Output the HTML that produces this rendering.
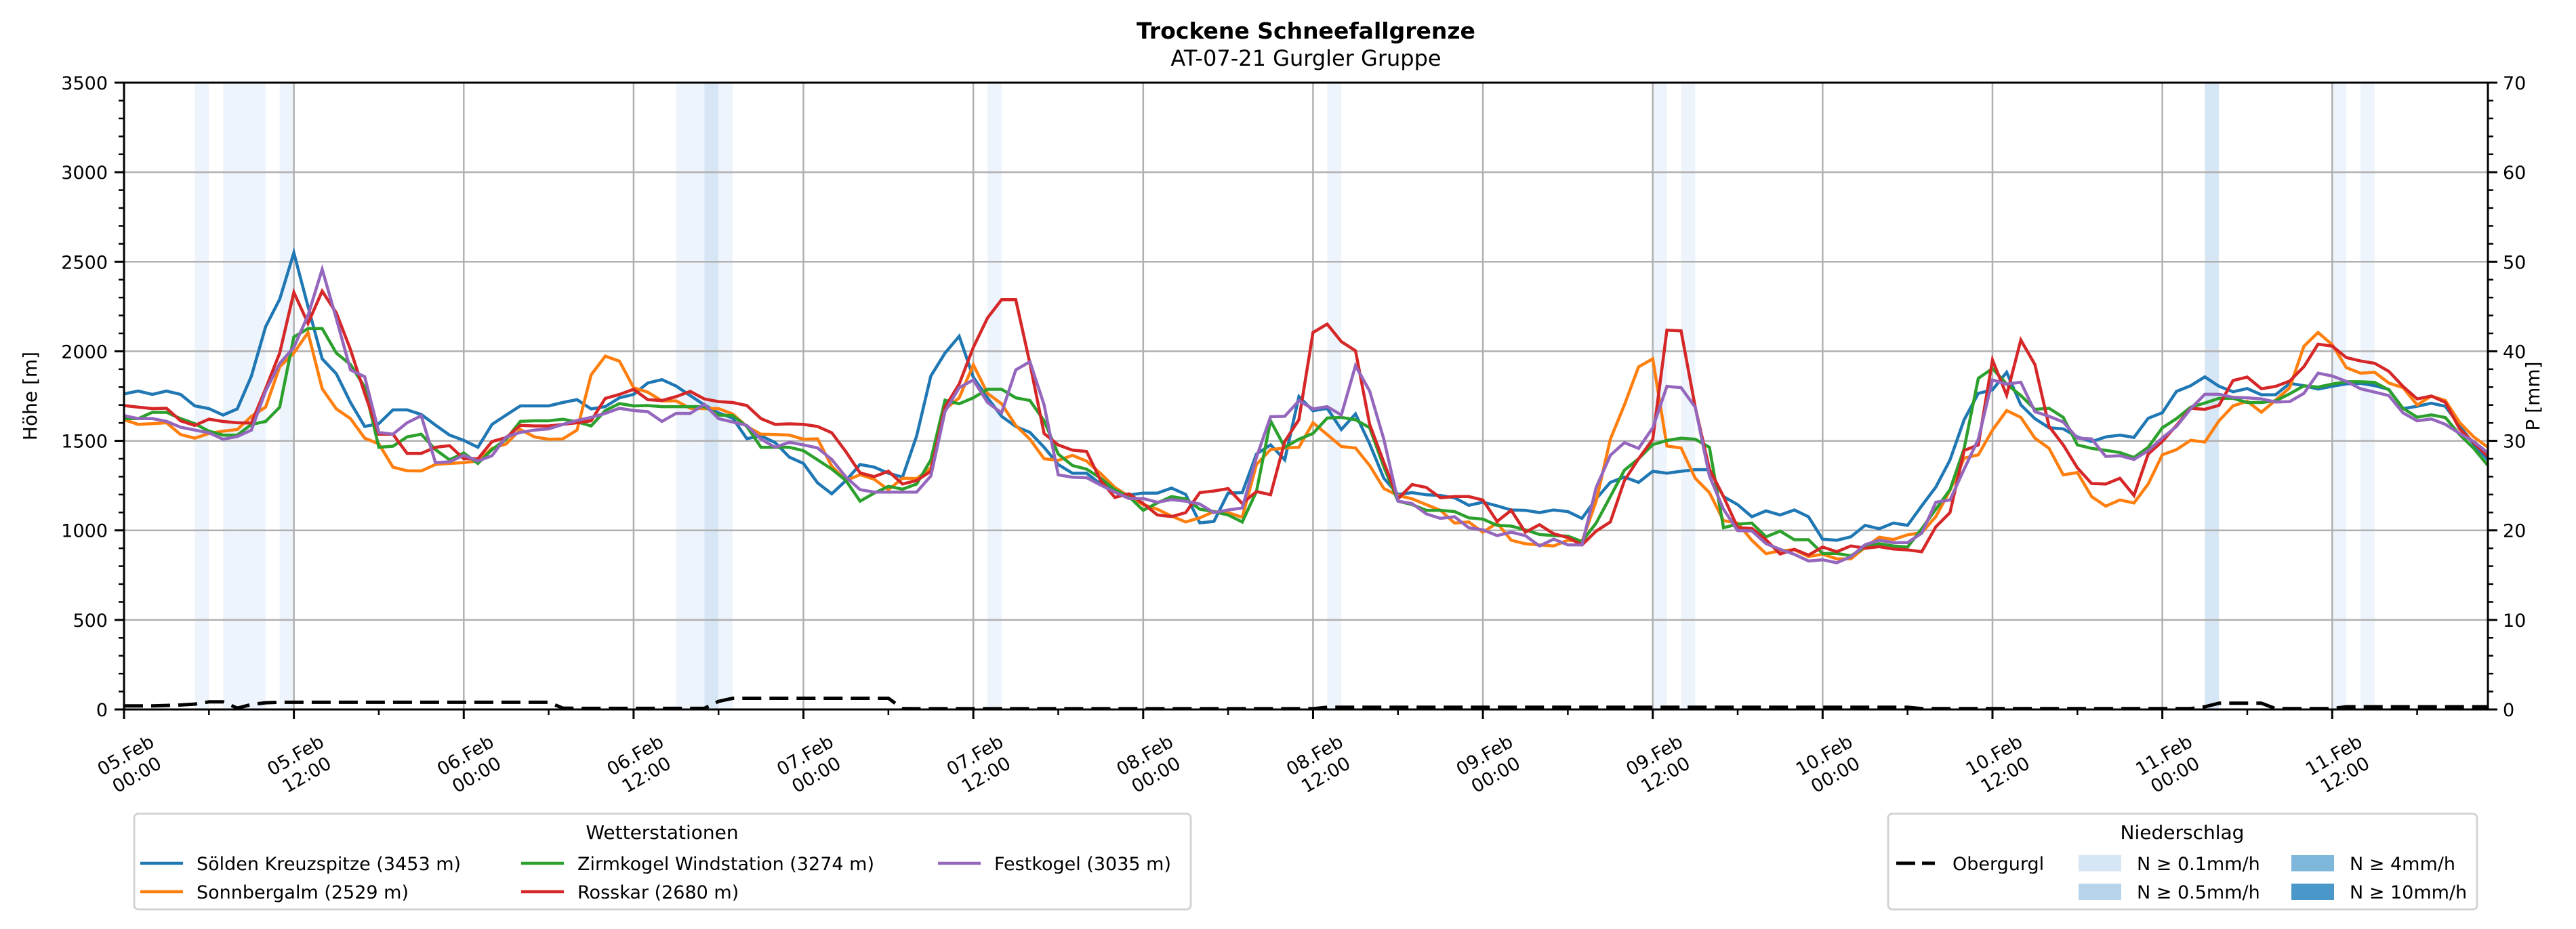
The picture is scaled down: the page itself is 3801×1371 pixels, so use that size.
<!DOCTYPE html>
<html><head><meta charset="utf-8"><title>Trockene Schneefallgrenze</title>
<style>
html,body{margin:0;padding:0;background:#fff;}
svg{display:block;font-family:"DejaVu Sans","Liberation Sans",sans-serif;}
</style></head>
<body>
<svg id="chart" width="3801" height="1371" viewBox="0 0 3801 1371" xmlns="http://www.w3.org/2000/svg">
<rect x="0" y="0" width="3801" height="1371" fill="#fff"/>
<text x="1927" y="57" text-anchor="middle" font-size="33" font-weight="bold">Trockene Schneefallgrenze</text>
<text x="1927" y="97" text-anchor="middle" font-size="32">AT-07-21 Gurgler Gruppe</text>
<g id="bands"></g>
<g id="grid"></g>
<g id="series"></g>
<g id="axes"></g>
<g id="legends"></g>
</svg>
<script>
const hours = 167;
const xTickLabels = [["05.Feb","00:00"],["05.Feb","12:00"],["06.Feb","00:00"],["06.Feb","12:00"],["07.Feb","00:00"],["07.Feb","12:00"],["08.Feb","00:00"],["08.Feb","12:00"],["09.Feb","00:00"],["09.Feb","12:00"],["10.Feb","00:00"],["10.Feb","12:00"],["11.Feb","00:00"],["11.Feb","12:00"]];
const yTicksLeft = [0,500,1000,1500,2000,2500,3000,3500];
const yTicksRight = [0,10,20,30,40,50,60,70];
const bandHours = [5,7,8,9,11,39,40,41,42,61,85,108,110,147,156,158];
const bandLevels = [1,1,1,1,1,1,1,2,1,1,1,1,1,2,1,1];
const soelden = [1762,1778,1759,1778,1759,1695,1680,1644,1678,1862,2137,2291,2550,2250,1958,1874,1714,1580,1596,1673,1673,1647,1588,1532,1503,1464,1592,1644,1695,1695,
1695,1714,1730,1678,1691,1740,1759,1823,1842,1806,1753,1701,1656,1627,1512,1528,1490,1409,1374,1265,1204,1278,1368,1353,1319,1298,1528,1862,1990,
2084,1855,1740,1637,1580,1547,1464,1368,1319,1319,1259,1221,1198,1208,1208,1236,1201,1042,1050,1208,1211,1426,1477,1394,1747,1668,1682,1563,
1650,1483,1291,1201,1211,1199,1195,1182,1140,1157,1137,1114,1112,1099,1114,1105,1067,1176,1268,1298,1268,1330,1319,1330,1339,1339,1189,1144,1076,
1109,1086,1114,1076,951,945,964,1028,1009,1041,1028,1137,1242,1393,1618,1765,1785,1883,1701,1624,1573,1567,1522,
1496,1522,1532,1519,1626,1657,1776,1808,1857,1805,1774,1792,1757,1757,1821,1808,1789,1805,1818,1821,1808,1787,1680,1693,1710,1693,1584,1481,1392];
const sonnbergalm = [1618,1592,1596,1601,1535,1515,1541,1554,1563,1637,1688,1913,1990,2105,1791,1678,1624,1515,1483,1353,1333,1332,1368,1374,1378,1387,1458,1483,1563,1522,
1509,1511,1560,1868,1973,1945,1797,1772,1723,1723,1682,1680,1680,1650,1580,1537,1535,1532,1509,1511,1358,1278,1311,1285,1227,1291,1289,1349,1676,
1740,1925,1765,1707,1586,1509,1400,1391,1419,1387,1317,1240,1189,1144,1118,1080,1047,1070,1105,1099,1073,1368,1451,1460,1464,1601,1535,1468,
1460,1362,1234,1195,1176,1144,1112,1041,1047,990,1041,945,925,919,913,945,938,1163,1509,1701,1913,1958,1471,1460,1291,1211,1054,1041,945,
870,886,892,854,867,841,841,905,962,949,975,987,1077,1224,1403,1422,1560,1669,1631,1515,1458,1310,1323,1189,1135,1170,1153,1259,1422,
1451,1503,1493,1612,1695,1721,1660,1727,1797,2028,2105,2037,1909,1878,1883,1823,1797,1701,1750,1725,1603,1522,1464];
const zirmkogel = [1624,1624,1659,1659,1624,1596,1554,1532,1532,1592,1608,1688,2080,2127,2127,1990,1926,1800,1464,1470,1522,1537,1451,1394,1432,1374,1451,1509,1609,1612,
1612,1621,1606,1583,1669,1708,1695,1697,1691,1691,1691,1691,1644,1641,1580,1464,1464,1464,1445,1394,1342,1278,1163,1208,1246,1230,1259,1394,1727,
1707,1740,1788,1788,1740,1725,1612,1426,1362,1342,1291,1227,1189,1112,1153,1189,1176,1118,1105,1086,1047,1217,1612,1464,1509,1541,1627,1631,
1618,1573,1355,1163,1144,1112,1112,1105,1070,1063,1028,1024,1003,977,971,968,938,1041,1189,1336,1400,1479,1502,1515,1509,1464,1015,1035,1041,
964,996,948,948,871,871,858,907,926,913,907,1009,1118,1227,1458,1849,1904,1817,1753,1676,1682,1631,1477,1458,1447,1435,
1407,1464,1573,1624,1688,1711,1737,1737,1714,1714,1723,1763,1807,1800,1817,1830,1830,1826,1785,1682,1632,1645,1630,1535,1458,1362];
const rosskar = [1697,1688,1680,1682,1612,1586,1621,1608,1601,1599,1791,1990,2329,2156,2336,2214,2009,1765,1537,1537,1430,1430,1464,1473,1400,1400,1496,1518,1586,1583,
1583,1592,1601,1612,1737,1759,1788,1730,1725,1747,1776,1734,1719,1714,1697,1624,1592,1595,1592,1580,1545,1439,1321,1300,1330,1259,1278,1330,1688,
1817,2022,2186,2288,2288,1932,1541,1477,1448,1441,1278,1184,1204,1150,1086,1077,1099,1211,1220,1233,1150,1217,1199,1496,1618,2105,2152,2054,
2003,1592,1380,1176,1256,1240,1182,1189,1189,1169,1050,1112,990,1032,981,960,919,996,1047,1278,1400,1509,2118,2114,1688,1342,1189,1015,1011,
948,868,894,862,907,881,913,900,909,896,891,881,1020,1099,1446,1477,1951,1755,2063,1926,1580,1477,1349,1262,
1259,1291,1195,1426,1497,1586,1682,1676,1698,1837,1856,1791,1804,1834,1914,2040,2029,1965,1946,1933,1888,1804,1734,1750,1715,1567,1490,1413];
const festkogel = [1641,1624,1624,1609,1576,1560,1545,1509,1524,1560,1778,1932,2022,2201,2458,2182,1896,1858,1547,1537,1601,1640,1378,1383,1419,1387,1417,1522,1547,1560,
1567,1592,1614,1631,1653,1682,1669,1663,1608,1653,1653,1704,1624,1605,1586,1509,1464,1492,1477,1460,1396,1298,1227,1214,1214,1214,1214,1304,1663,
1797,1840,1714,1656,1896,1942,1701,1310,1297,1294,1253,1214,1178,1178,1157,1172,1163,1147,1099,1114,1125,1407,1635,1637,1724,1678,1691,1644,
1920,1778,1509,1163,1150,1092,1067,1076,1015,1003,971,990,971,913,951,919,919,1240,1419,1490,1458,1573,1804,1797,1688,1304,1118,999,997,
926,894,866,829,836,819,853,920,945,932,932,984,1157,1170,1342,1509,1840,1817,1827,1663,1637,1605,1515,
1511,1413,1417,1396,1445,1516,1580,1679,1760,1760,1743,1740,1734,1717,1719,1765,1878,1862,1832,1791,1772,1753,1656,1612,1622,1592,1541,1496,1432];
const obergurgl = [0.4,0.4,0.4,0.45,0.5,0.6,0.85,0.85,0.15,0.55,0.75,
0.8,0.8,0.8,0.8,0.8,0.8,0.8,0.8,0.8,0.8,0.8,0.8,0.8,0.8,0.8,0.8,0.8,0.8,0.8,0.8,
0.15,0.12,0.12,0.12,0.12,0.12,0.12,0.12,0.12,0.12,0.12,
0.9,1.25,1.25,1.25,1.25,1.25,1.25,1.25,1.25,1.25,1.25,1.25,1.25,
0.1,
0.08,0.08,0.08,0.08,0.08,0.08,0.08,0.08,0.08,0.08,0.08,0.08,0.08,0.08,0.08,0.08,0.08,0.08,0.08,0.08,0.08,0.08,0.08,0.08,0.08,0.08,0.08,0.08,0.08,
0.25,0.25,0.25,0.25,0.25,0.25,0.25,0.25,0.25,0.25,0.25,0.25,0.25,0.25,0.25,0.25,0.25,0.25,0.25,0.25,0.25,0.25,0.25,0.25,0.25,0.25,0.25,0.25,0.25,0.25,0.25,0.25,0.25,0.25,0.25,0.25,0.25,0.25,0.25,0.25,0.25,0.25,
0.1,0.1,0.1,0.1,0.1,0.1,0.1,0.1,0.1,0.1,0.1,0.1,0.1,0.1,0.1,0.1,0.1,0.1,0.1,0.1,
0.3,0.7,0.7,0.7,0.7,0.1,0.1,0.1,0.1,0.1,
0.3,0.3,0.3,0.3,0.3,0.3,0.3,0.3,0.3,0.3,0.3];

const L = 183, R = 3671, T = 122, B = 1047;
const NS = "http://www.w3.org/2000/svg";
function xs(h){ return L + h * (R - L) / hours; }
function yl(v){ return B - v * (B - T) / 3500; }
function yr(p){ return B - p * (B - T) / 70; }
function mk(tag, attrs, parent){
  const e = document.createElementNS(NS, tag);
  for (const k in attrs) e.setAttribute(k, attrs[k]);
  parent.appendChild(e);
  return e;
}
const gBands = document.getElementById('bands');
const gGrid = document.getElementById('grid');
const gSer = document.getElementById('series');
const gAx = document.getElementById('axes');
const gLeg = document.getElementById('legends');
const bandColors = ['#ffffff','#eef4fb','#d6e6f4','#b8d4ea','#7fb7da'];

bandHours.forEach(function(h, i){
  const r = mk('rect', {x: xs(h), y: T, width: xs(h+1)-xs(h), height: B-T, fill: bandColors[bandLevels[i]]}, gBands);
  
  
});

yTicksLeft.forEach(function(v){
  if (v === 0 || v === 3500) return;
  const g = mk('line', {x1: L, x2: R, y1: yl(v), y2: yl(v), stroke: '#b0b0b0', 'stroke-width': 2.5}, gGrid);
  
  
});
xTickLabels.forEach(function(lb, i){
  const x = xs(i * 12);
  if (i === 0) return;
  const g = mk('line', {x1: x, x2: x, y1: T, y2: B, stroke: '#b0b0b0', 'stroke-width': 2.5}, gGrid);
  
  
});

const seriesList = [
  {name: 'soelden', data: soelden, color: '#1f77b4'},
  {name: 'sonnbergalm', data: sonnbergalm, color: '#ff7f0e'},
  {name: 'zirmkogel', data: zirmkogel, color: '#2ca02c'},
  {name: 'rosskar', data: rosskar, color: '#d62728'},
  {name: 'festkogel', data: festkogel, color: '#9467bd'}
];
seriesList.forEach(function(s){
  const d = s.data.map(function(v, i){ return (i ? 'L' : 'M') + xs(i).toFixed(1) + ',' + yl(v).toFixed(1); }).join('');
  const p = mk('path', {d: d, fill: 'none', stroke: s.color, 'stroke-width': 4.5, 'stroke-linejoin': 'miter'}, gSer);
  
  
});
const pd = obergurgl.map(function(v, i){ return (i ? 'L' : 'M') + xs(i).toFixed(1) + ',' + yr(v).toFixed(1); }).join('');
const pl = mk('path', {d: pd, fill: 'none', stroke: '#000', 'stroke-width': 5, 'stroke-dasharray': '28 12'}, gSer);



const frame = mk('rect', {x: L, y: T, width: R-L, height: B-T, fill: 'none', stroke: '#000', 'stroke-width': 3}, gAx);



for (let v = 0; v <= 3500; v += 100) {
  const major = v % 500 === 0;
  const t = mk('line', {x1: L, x2: L - (major ? 14 : 8), y1: yl(v), y2: yl(v), stroke: '#000', 'stroke-width': major ? 3 : 2.5}, gAx);
  
  
}
yTicksLeft.forEach(function(v){
  const t = mk('text', {x: L - 24, y: yl(v) + 10, 'text-anchor': 'end', 'font-size': 27}, gAx);
  t.textContent = String(v);
  
  
});
for (let p = 0; p <= 70; p += 2) {
  const major = p % 10 === 0;
  const t = mk('line', {x1: R, x2: R + (major ? 14 : 8), y1: yr(p), y2: yr(p), stroke: '#000', 'stroke-width': major ? 3 : 2.5}, gAx);
  
  
}
yTicksRight.forEach(function(p){
  const t = mk('text', {x: R + 22, y: yr(p) + 10, 'text-anchor': 'start', 'font-size': 27}, gAx);
  t.textContent = String(p);
  
  
});
for (let h = 0; h <= hours; h += 6) {
  const major = h % 12 === 0;
  const t = mk('line', {x1: xs(h), x2: xs(h), y1: B, y2: B + (major ? 14 : 8), stroke: '#000', 'stroke-width': major ? 3 : 2.5}, gAx);
  
  
}
xTickLabels.forEach(function(lb, i){
  const g = mk('g', {transform: 'translate(' + (xs(i*12) + 10) + ',1128) rotate(-30)'}, gAx);
  
  
  const t1 = mk('text', {x: 0, y: -6, 'text-anchor': 'middle', 'font-size': 27}, g);
  t1.textContent = lb[0];
  const t2 = mk('text', {x: 0, y: 27, 'text-anchor': 'middle', 'font-size': 27}, g);
  t2.textContent = lb[1];
});
const yt = mk('text', {x: 0, y: 0, transform: 'translate(54,' + ((T+B)/2) + ') rotate(-90)', 'text-anchor': 'middle', 'font-size': 28}, gAx);
yt.textContent = 'Höhe [m]';


const yt2 = mk('text', {x: 0, y: 0, transform: 'translate(3747,' + ((T+B)/2) + ') rotate(-90)', 'text-anchor': 'middle', 'font-size': 28}, gAx);
yt2.textContent = 'P [mm]';



const lg1 = mk('g', {}, gLeg);


mk('rect', {x: 198, y: 1201, width: 1559, height: 141, rx: 6, fill: '#fff', stroke: '#d3d3d3', 'stroke-width': 3}, lg1);
const lt1 = mk('text', {x: 977, y: 1238, 'text-anchor': 'middle', 'font-size': 28}, lg1);
lt1.textContent = 'Wetterstationen';
const stationLabels = ['Sölden Kreuzspitze (3453 m)','Sonnbergalm (2529 m)','Zirmkogel Windstation (3274 m)','Rosskar (2680 m)','Festkogel (3035 m)'];
const entryPos = [[207,1274],[207,1316],[769,1274],[769,1316],[1384,1274]];
stationLabels.forEach(function(name, i){
  const g = mk('g', {}, lg1);
  
  
  mk('line', {x1: entryPos[i][0], x2: entryPos[i][0] + 63, y1: entryPos[i][1], y2: entryPos[i][1], stroke: seriesList[i].color, 'stroke-width': 4.5}, g);
  const t = mk('text', {x: entryPos[i][0] + 83, y: entryPos[i][1] + 10, 'font-size': 27}, g);
  t.textContent = name;
});

const lg2 = mk('g', {}, gLeg);


mk('rect', {x: 2786, y: 1201, width: 869, height: 141, rx: 6, fill: '#fff', stroke: '#d3d3d3', 'stroke-width': 3}, lg2);
const lt2 = mk('text', {x: 3220, y: 1238, 'text-anchor': 'middle', 'font-size': 28}, lg2);
lt2.textContent = 'Niederschlag';
const ob = mk('g', {}, lg2);


mk('line', {x1: 2798, x2: 2855, y1: 1274, y2: 1274, stroke: '#000', 'stroke-width': 5, 'stroke-dasharray': '28 10'}, ob);
const obt = mk('text', {x: 2881, y: 1284, 'font-size': 27}, ob);
obt.textContent = 'Obergurgl';
const patchLabels = ['N ≥ 0.1mm/h','N ≥ 0.5mm/h','N ≥ 4mm/h','N ≥ 10mm/h'];
const patchColors = ['#d6e6f4','#b8d4ea','#7fb7da','#4a98c9'];
const patchPos = [[3067,1274],[3067,1316],[3381,1274],[3381,1316]];
patchLabels.forEach(function(lb, i){
  const g = mk('g', {}, lg2);
  
  
  mk('rect', {x: patchPos[i][0], y: patchPos[i][1] - 12, width: 63, height: 24, fill: patchColors[i]}, g);
  const t = mk('text', {x: patchPos[i][0] + 86, y: patchPos[i][1] + 10, 'font-size': 27}, g);
  t.textContent = lb;
});
</script>
</body></html>
